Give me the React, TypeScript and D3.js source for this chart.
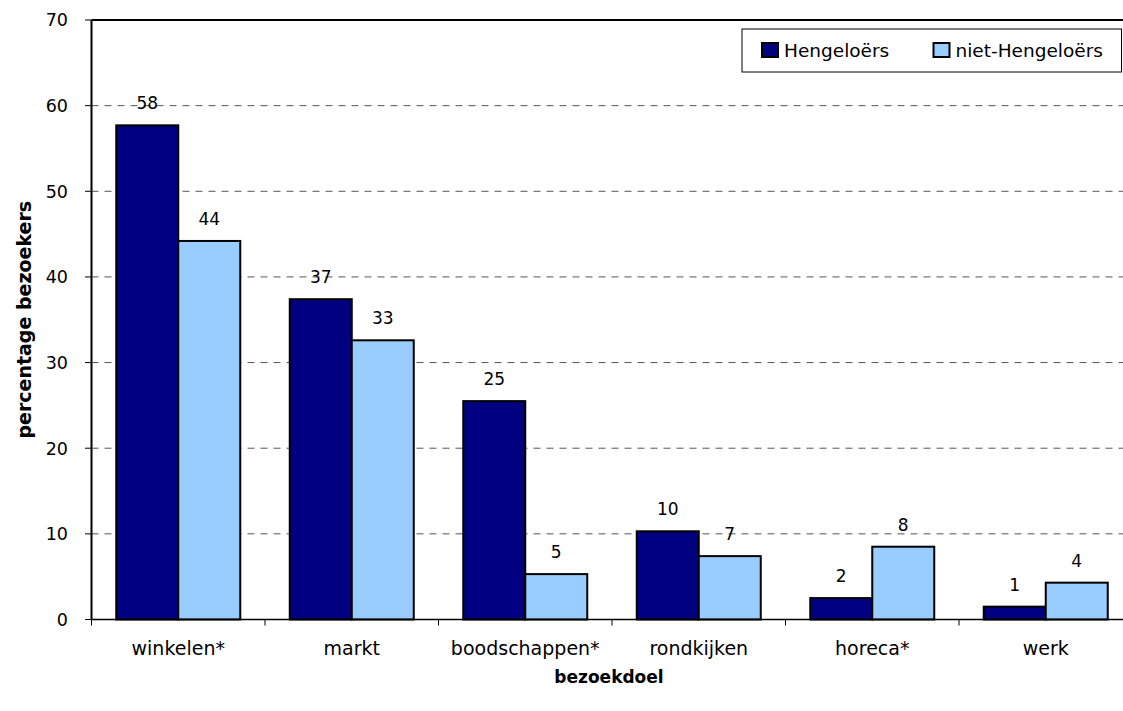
import React from "react";
import * as d3 from "d3";

const categories = ["winkelen*", "markt", "boodschappen*", "rondkijken", "horeca*", "werk"];
const seriesNames = ["Hengeloërs", "niet-Hengeloërs"];
const hengeloers = [57.7, 37.4, 25.5, 10.3, 2.5, 1.5];
const nietHengeloers = [44.2, 32.6, 5.3, 7.4, 8.5, 4.3];
const labelsH = ["58", "37", "25", "10", "2", "1"];
const labelsN = ["44", "33", "5", "7", "8", "4"];
const yTicks = [0, 10, 20, 30, 40, 50, 60, 70];

const W = 1123;
const H = 711;
const FONT = "'DejaVu Sans', Verdana, sans-serif";
const colors = ["#000080", "#99CCFF"];

export default function App() {
  const left = 91.5;
  const top = 20;
  const bottom = 619.5;
  const catW = 173.5;
  const right = left + catW * categories.length;

  const x = d3.scaleBand<string>().domain(categories).range([left, right]).paddingInner(0).paddingOuter(0);
  const y = d3.scaleLinear().domain([0, 70]).range([bottom, top]);
  const inner = d3.scaleBand<number>().domain([0, 1]).range([24.75, catW - 24.75]).padding(0);

  const series = [hengeloers, nietHengeloers];
  const labels = [labelsH, labelsN];

  return (
    <svg width={W} height={H} style={{ position: "absolute", left: 0, top: 0, background: "#fff" }} fontFamily={FONT}>
      <rect x={0} y={0} width={W} height={H} fill="#fff" />
      {yTicks.filter((t) => t > 0 && t < 70).map((t) => (
        <line key={t} x1={left} x2={W} y1={y(t)} y2={y(t)} stroke="#555" strokeWidth={1} strokeDasharray="7,6" />
      ))}
      {categories.map((c, i) => (
        <g key={c}>
          {series.map((s, k) => {
            const bx = (x(c) as number) + (inner(k) as number);
            const bw = inner.bandwidth();
            return (
              <g key={k}>
                <rect x={bx} y={y(s[i])} width={bw} height={bottom - y(s[i])} fill={colors[k]} stroke="#000" strokeWidth={2} />
                <text x={bx + bw / 2} y={y(s[i]) - 16} textAnchor="middle" fontSize={17} fill="#000">
                  {labels[k][i]}
                </text>
              </g>
            );
          })}
        </g>
      ))}
      <line x1={left} x2={W} y1={top} y2={top} stroke="#000" strokeWidth={2} />
      <line x1={left} x2={left} y1={top} y2={bottom} stroke="#000" strokeWidth={2} />
      <line x1={left} x2={W} y1={bottom} y2={bottom} stroke="#000" strokeWidth={1.5} />
      {yTicks.map((t) => (
        <g key={t}>
          <line x1={85} x2={left} y1={y(t)} y2={y(t)} stroke="#000" strokeWidth={1} />
          <text x={68} y={y(t)} dy="0.36em" textAnchor="end" fontSize={17.5} fill="#000">
            {t}
          </text>
        </g>
      ))}
      {categories.map((c) => (
        <g key={c}>
          <line x1={x(c) as number} x2={x(c) as number} y1={bottom} y2={bottom + 6} stroke="#000" strokeWidth={1} />
          <text x={(x(c) as number) + x.bandwidth() / 2} y={648} dy="0.36em" textAnchor="middle" fontSize={19} fill="#000">
            {c}
          </text>
        </g>
      ))}
      <line x1={right} x2={right} y1={bottom} y2={bottom + 6} stroke="#000" strokeWidth={1} />
      <text x={609} y={677} dy="0.36em" textAnchor="middle" fontSize={17} fontWeight="bold" fill="#000">
        bezoekdoel
      </text>
      <text transform={`translate(24, ${(top + bottom) / 2}) rotate(-90)`} dy="0.36em" textAnchor="middle" fontSize={19} fontWeight="bold" fill="#000">
        percentage bezoekers
      </text>
      <rect x={742} y={29} width={379.5} height={43} fill="#fff" stroke="#000" strokeWidth={1} />
      {seriesNames.map((n, k) => {
        const lx = k === 0 ? 762 : 933.5;
        return (
          <g key={n}>
            <rect x={lx} y={43} width={16} height={14} fill={colors[k]} stroke="#000" strokeWidth={2} />
            <text x={lx + 22} y={50} dy="0.36em" fontSize={18.5} fill="#000">
              {n}
            </text>
          </g>
        );
      })}
    </svg>
  );
}
